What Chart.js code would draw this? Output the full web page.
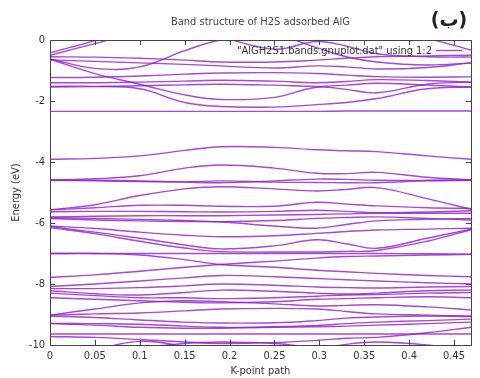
<!DOCTYPE html>
<html>
<head>
<meta charset="utf-8">
<title>Band structure of H2S adsorbed AlG</title>
<script src="https://cdn.jsdelivr.net/npm/chart.js@4.4.1/dist/chart.umd.min.js"></script>
<style>
    html, body { margin: 0; padding: 0; background: #fff; }
    #wrap { width: 480px; height: 378px; }
</style>
</head>
<body>
<div id="wrap"><canvas id="bandChart" width="480" height="378"></canvas></div>
<script>
const kPoints = [0, 0.05, 0.1, 0.15, 0.19, 0.25, 0.297, 0.33, 0.364, 0.42, 0.469];

// band energies (eV) at each k-point, top to bottom
const band01 = [-0.42, -0.02, 0.45, 0.7, 0.8, 0.7, 0.5, 0.4, 0.35, 0.05, -0.33];
const band02 = [-0.50, -0.12, 0.25, 0.35, 0.1, -0.3, -0.05, -0.2, -0.45, -0.55, -0.56];
const band03 = [-0.55, -0.56, -0.6, -0.66, -0.72, -0.72, -0.66, -0.6, -0.55, -0.52, -0.5];
const band04 = [-0.62, -0.93, -0.88, -0.35, 0.0, 0.15, -0.25, -0.55, -0.72, -0.82, -0.75];
const band05 = [-0.65, -0.7, -0.75, -0.8, -0.85, -0.92, -0.85, -0.88, -0.95, -0.9, -0.75];
const band06 = [-1.23, -1.22, -1.18, -1.12, -1.08, -1.07, -1.1, -1.15, -1.2, -1.22, -1.21];
const band07 = [-1.40, -1.40, -1.38, -1.35, -1.32, -1.35, -1.4, -1.36, -1.3, -1.33, -1.38];
const band08 = [-1.54, -1.53, -1.5, -1.47, -1.45, -1.48, -1.52, -1.48, -1.42, -1.48, -1.54];
const band09 = [-0.63, -1.1, -1.45, -1.8, -1.95, -1.88, -1.55, -1.62, -1.73, -1.45, -1.38];
const band10 = [-1.52, -1.52, -1.6, -2.05, -2.18, -2.2, -2.12, -2.05, -1.92, -1.6, -1.54];
const band11 = [-2.34, -2.34, -2.34, -2.34, -2.34, -2.34, -2.34, -2.33, -2.33, -2.33, -2.33];
const band12 = [-3.91, -3.88, -3.8, -3.62, -3.5, -3.52, -3.6, -3.63, -3.66, -3.8, -3.91];
const band13 = [-4.59, -4.55, -4.45, -4.2, -4.1, -4.2, -4.37, -4.38, -4.34, -4.5, -4.59];
const band14 = [-4.59, -4.6, -4.62, -4.66, -4.68, -4.62, -4.56, -4.57, -4.6, -4.6, -4.58];
const band15 = [-4.6, -4.62, -4.64, -4.65, -4.62, -4.66, -4.67, -4.68, -4.68, -4.62, -4.6];
const band16 = [-5.57, -5.4, -5.1, -4.88, -4.81, -4.88, -4.95, -4.9, -4.84, -5.2, -5.55];
const band17 = [-5.57, -5.5, -5.42, -5.42, -5.45, -5.45, -5.32, -5.38, -5.44, -5.5, -5.52];
const band18 = [-5.63, -5.62, -5.62, -5.63, -5.64, -5.62, -5.58, -5.62, -5.66, -5.64, -5.6];
const band19 = [-5.8, -5.78, -5.76, -5.76, -5.76, -5.74, -5.72, -5.7, -5.68, -5.68, -5.68];
const band20 = [-5.82, -5.85, -5.88, -5.92, -5.96, -6.1, -6.17, -6.05, -5.93, -5.88, -5.85];
const band21 = [-5.85, -5.9, -5.93, -5.95, -5.96, -5.92, -5.85, -5.82, -5.8, -5.85, -5.9];
const band22 = [-6.1, -6.18, -6.3, -6.4, -6.45, -6.42, -6.34, -6.28, -6.23, -6.2, -6.17];
const band23 = [-6.12, -6.3, -6.5, -6.72, -6.85, -6.75, -6.55, -6.68, -6.83, -6.5, -6.2];
const band24 = [-6.15, -6.35, -6.6, -6.82, -6.94, -6.95, -6.95, -6.93, -6.9, -6.6, -6.22];
const band25 = [-7.0, -7.0, -7.0, -7.0, -7.0, -7.0, -7.0, -7.0, -7.0, -7.01, -7.02];
const band26 = [-7.0, -7.0, -7.05, -7.2, -7.36, -7.45, -7.55, -7.6, -7.65, -7.72, -7.76];
const band27 = [-7.78, -7.7, -7.58, -7.45, -7.36, -7.25, -7.15, -7.1, -7.08, -7.05, -7.03];
const band28 = [-8.08, -8.0, -7.9, -7.8, -7.72, -7.76, -7.82, -7.86, -7.9, -7.96, -8.0];
const band29 = [-8.15, -8.15, -8.12, -8.06, -8.0, -8.04, -8.1, -8.12, -8.13, -8.1, -8.08];
const band30 = [-8.22, -8.32, -8.36, -8.28, -8.2, -8.24, -8.3, -8.33, -8.3, -8.22, -8.2];
const band31 = [-8.3, -8.38, -8.45, -8.45, -8.48, -8.45, -8.4, -8.36, -8.35, -8.3, -8.28];
const band32 = [-8.45, -8.5, -8.55, -8.6, -8.62, -8.58, -8.5, -8.48, -8.45, -8.42, -8.45];
const band33 = [-9.02, -8.82, -8.62, -8.55, -8.58, -8.65, -8.72, -8.7, -8.68, -8.75, -8.85];
const band34 = [-9.02, -8.98, -8.95, -8.88, -8.82, -8.8, -8.82, -8.9, -8.98, -9.02, -9.05];
const band35 = [-9.05, -9.1, -9.18, -9.25, -9.28, -9.27, -9.2, -9.12, -9.08, -9.05, -9.07];
const band36 = [-9.29, -9.3, -9.32, -9.38, -9.42, -9.4, -9.36, -9.3, -9.25, -9.2, -9.15];
const band37 = [-9.3, -9.35, -9.42, -9.45, -9.45, -9.42, -9.4, -9.38, -9.35, -9.3, -9.25];
const band38 = [-9.64, -9.64, -9.64, -9.64, -9.64, -9.64, -9.64, -9.64, -9.64, -9.64, -9.64];
const band39 = [-9.72, -9.75, -9.82, -9.9, -9.95, -9.92, -9.85, -9.78, -9.75, -9.6, -9.42];
const band40 = [-10.4, -10.15, -9.88, -10.05, -10.3, -10.3, -10.15, -9.98, -9.9, -10.0, -10.2];
const band41 = [-10.5, -10.3, -10.1, -9.95, -9.9, -9.95, -10.1, -10.2, -10.3, -10.3, -10.1];

const bands = [band01, band02, band03, band04, band05, band06, band07, band08, band09, band10,
    band11, band12, band13, band14, band15, band16, band17, band18, band19, band20,
    band21, band22, band23, band24, band25, band26, band27, band28, band29, band30,
    band31, band32, band33, band34, band35, band36, band37, band38, band39, band40, band41];

const xTicks = [0, 0.05, 0.1, 0.15, 0.2, 0.25, 0.3, 0.35, 0.4, 0.45];
const yTicks = [0, -2, -4, -6, -8, -10];

const chartTitle = 'Band structure of H2S adsorbed AlG';
const panelLabel = '(ب)';
const legendLabel = '"AlGH2S1.bands.gnuplot.dat" using 1:2';

const FONT = "'Liberation Sans Narrow', 'DejaVu Sans Condensed', 'Liberation Sans', sans-serif";
const LINE_COLOR = 'rgba(145, 30, 210, 0.82)';
const TEXT_COLOR = '#333';

// gnuplot-like frame: box, inward ticks, title, in-plot key
const gnuplotFrame = {
    id: 'gnuplotFrame',
    afterDatasetsDraw(chart) {
        const ctx = chart.ctx;
        const area = chart.chartArea;
        const xs = chart.scales.x;
        const ys = chart.scales.y;
        ctx.save();
        ctx.strokeStyle = '#444';
        ctx.lineWidth = 1;
        ctx.beginPath();
        xTicks.forEach(v => {
            if (v === 0) return;
            const px = Math.round(xs.getPixelForValue(v)) + 0.5;
            ctx.moveTo(px, area.bottom); ctx.lineTo(px, area.bottom - 5);
            ctx.moveTo(px, area.top); ctx.lineTo(px, area.top + 5);
        });
        yTicks.forEach(v => {
            if (v === 0 || v === -10) return;
            const py = Math.round(ys.getPixelForValue(v)) + 0.5;
            ctx.moveTo(area.left, py); ctx.lineTo(area.left + 5, py);
            ctx.moveTo(area.right, py); ctx.lineTo(area.right - 5, py);
        });
        ctx.stroke();
        ctx.strokeRect(Math.round(area.left) + 0.5, Math.round(area.top) + 0.5,
            Math.round(area.right - area.left), Math.round(area.bottom - area.top));

        // key
        ctx.fillStyle = TEXT_COLOR;
        ctx.font = '11px ' + FONT;
        ctx.textAlign = 'right';
        ctx.textBaseline = 'middle';
        ctx.fillText(legendLabel, 432, 51);
        ctx.strokeStyle = LINE_COLOR;
        ctx.lineWidth = 1.4;
        ctx.beginPath();
        ctx.moveTo(436, 50.5); ctx.lineTo(462, 50.5);
        ctx.stroke();

        // titles
        ctx.fillStyle = '#444';
        ctx.textAlign = 'center';
        ctx.font = '11px ' + FONT;
        ctx.fillText(chartTitle, (area.left + area.right) / 2, 22);
        ctx.fillStyle = '#222';
        ctx.font = "bold 19px 'DejaVu Sans', 'Noto Sans', sans-serif";
        ctx.fillText(panelLabel, 449, 21);
        ctx.restore();
    }
};

const datasets = bands.map((vals, i) => ({
    label: 'band ' + (i + 1),
    data: kPoints.map((k, j) => ({ x: k, y: vals[j] })),
    borderColor: LINE_COLOR,
    borderWidth: 1.4,
    pointRadius: 0,
    fill: false,
    tension: 0.4
}));

new Chart(document.getElementById('bandChart').getContext('2d'), {
    type: 'line',
    data: { datasets },
    options: {
        responsive: false,
        animation: false,
        events: [],
        layout: { padding: { top: 40, right: 9, left: 0, bottom: 0 } },
        plugins: {
            legend: { display: false },
            tooltip: { enabled: false }
        },
        scales: {
            x: {
                type: 'linear',
                min: 0,
                max: 0.469,
                afterFit: s => { s.height = 33; },
                border: { display: false },
                grid: { display: false, drawTicks: false },
                ticks: {
                    stepSize: 0.05,
                    includeBounds: false,
                    autoSkip: false,
                    maxRotation: 0,
                    padding: 5,
                    color: TEXT_COLOR,
                    font: { family: FONT, size: 11 },
                    callback: v => String(Math.round(v * 100) / 100)
                },
                title: {
                    display: true,
                    text: 'K-point path',
                    color: TEXT_COLOR,
                    font: { family: FONT, size: 11 },
                    padding: { top: 0, bottom: 0 }
                }
            },
            y: {
                type: 'linear',
                min: -10,
                max: 0,
                afterFit: s => { s.width = 50; },
                border: { display: false },
                grid: { display: false, drawTicks: false },
                ticks: {
                    stepSize: 2,
                    padding: 5,
                    color: TEXT_COLOR,
                    font: { family: FONT, size: 11 },
                    callback: v => String(v)
                },
                title: {
                    display: true,
                    text: 'Energy (eV)',
                    color: TEXT_COLOR,
                    font: { family: FONT, size: 11 },
                    padding: { top: 10, bottom: 0 }
                }
            }
        }
    },
    plugins: [gnuplotFrame]
});
</script>
</body>
</html>
